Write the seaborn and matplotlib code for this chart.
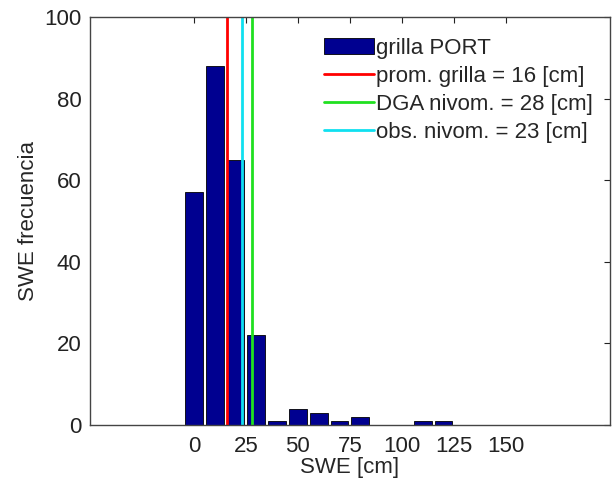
import numpy as np
import pandas as pd
import matplotlib
matplotlib.use("Agg")
import matplotlib.pyplot as plt
import matplotlib.patches as mpatches
from matplotlib.legend_handler import HandlerPatch
import seaborn as sns

# Data
bin_centers = [0, 10, 20, 30, 40, 50, 60, 70, 80, 90, 100, 110, 120]
counts = [57, 88, 65, 22, 1, 4, 3, 1, 2, 0, 0, 1, 1]
bin_width = 10
prom_grilla = 16
dga_nivom = 28
obs_nivom = 23
x_ticks = [0, 25, 50, 75, 100, 125, 150]
y_ticks = [0, 20, 40, 60, 80, 100]

sns.set_style("white")
plt.rcParams['font.family'] = ['Liberation Sans', 'DejaVu Sans']

fig = plt.figure(figsize=(6.13, 4.86), dpi=100)
ax = fig.add_axes([0.1468, 0.1255, 0.848, 0.8395])

df = pd.DataFrame({"swe": bin_centers, "n": counts})
edges = [c - bin_width / 2 for c in bin_centers] + [bin_centers[-1] + bin_width / 2]
sns.histplot(data=df, x="swe", weights="n", bins=edges, shrink=0.86,
             color="#000090", alpha=1, edgecolor="black", linewidth=0.6,
             ax=ax, label="grilla PORT")

ax.axvline(prom_grilla, color="#ff0000", lw=2, label=f"prom. grilla = {prom_grilla} [cm]")
ax.axvline(dga_nivom, color="#20e020", lw=2, label=f"DGA nivom. = {dga_nivom} [cm]")
ax.axvline(obs_nivom, color="#10e0f0", lw=2, label=f"obs. nivom. = {obs_nivom} [cm]")

ax.set_xlim(-50, 200)
ax.set_ylim(0, 100)
ax.set_xticks(x_ticks)
ax.set_yticks(y_ticks)
ax.tick_params(direction="in", top=True, right=True, length=4, width=0.8,
               labelsize=16, colors="#222222", pad=6)
ax.tick_params(axis="x", pad=8)
for s in ax.spines.values():
    s.set_visible(True)
    s.set_color("#444444")
    s.set_linewidth(1)

ax.set_xlabel("SWE [cm]", fontsize=16, labelpad=0)
ax.set_ylabel("SWE frecuencia", fontsize=16, labelpad=4)


def big_patch(legend, orig_handle, xdescent, ydescent, width, height, fontsize):
    return mpatches.Rectangle((-xdescent, -ydescent - 0.3 * height), width, height * 1.6)


handles, labels = ax.get_legend_handles_labels()
order = [labels.index("grilla PORT")] + [i for i, l in enumerate(labels) if l != "grilla PORT"]
handles = [handles[i] for i in order]
labels = [labels[i] for i in order]
leg = ax.legend(handles, labels, loc="upper right", bbox_to_anchor=(0.995, 0.985),
                fontsize=16, frameon=True, fancybox=False,
                edgecolor="white", handlelength=2.25, handletextpad=0.1,
                labelspacing=0.32, borderaxespad=0.3, borderpad=0.35,
                handler_map={mpatches.Rectangle: HandlerPatch(patch_func=big_patch)})

fig.savefig("out.png", dpi=100)
